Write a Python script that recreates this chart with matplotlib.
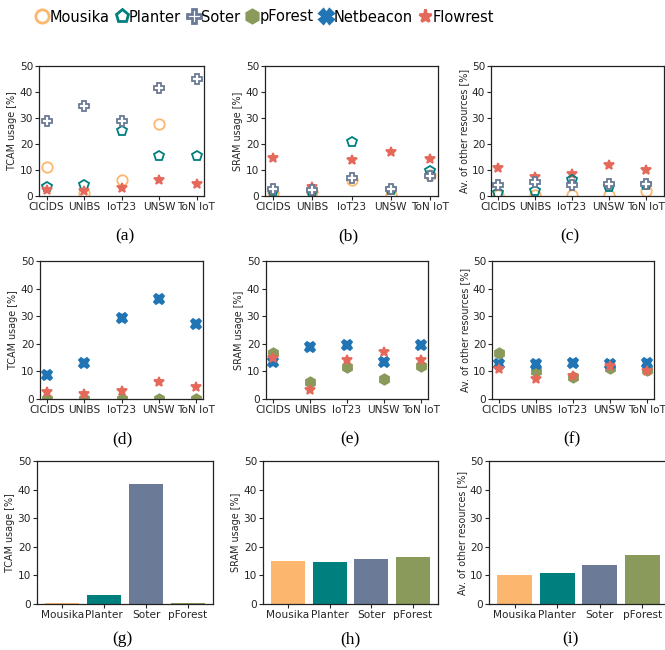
import numpy as np
import matplotlib
matplotlib.use("Agg")
import matplotlib.pyplot as plt
from matplotlib.lines import Line2D

# datasets and tools
datasets = ["CICIDS", "UNIBS", "IoT23", "UNSW", "ToN IoT"]
tools = ["Mousika", "Planter", "Soter", "pForest"]

# row 1: Mousika / Planter / Soter / Flowrest
tcam_mousika = [11.0, 1.3, 6.2, 27.7, np.nan]
tcam_planter = [3.5, 4.3, 25.0, 15.5, 15.5]
tcam_soter = [29.0, 34.5, 29.0, 41.5, 45.0]
tcam_flowrest = [2.5, 1.8, 3.0, 6.2, 4.5]

sram_mousika = [1.0, 1.5, 6.0, 0.5, 8.0]
sram_planter = [1.8, 1.5, 20.7, 2.5, 9.5]
sram_soter = [2.8, 2.5, 7.0, 2.8, 7.8]
sram_flowrest = [14.8, 3.3, 14.0, 17.0, 14.2]

other_mousika = [0.5, 0.4, 0.4, 0.4, 1.8]
other_planter = [1.2, 2.0, 6.0, 3.5, 4.2]
other_soter = [4.2, 5.2, 4.2, 4.5, 4.5]
other_flowrest = [10.8, 7.2, 8.5, 12.0, 10.0]

# row 2: pForest / Netbeacon / Flowrest
tcam_pforest = [0.0, 0.0, 0.0, 0.0, 0.0]
tcam_netbeacon = [8.8, 13.2, 29.3, 36.2, 27.2]
sram_pforest = [16.5, 6.0, 11.5, 7.2, 12.0]
sram_netbeacon = [13.5, 18.8, 19.5, 13.5, 19.5]
other_pforest = [16.8, 10.0, 7.8, 11.2, 10.5]
other_netbeacon = [12.8, 12.8, 13.0, 12.8, 13.0]

# row 3: bars per tool
bar_tcam = [0.25, 3.0, 42.0, 0.25]
bar_sram = [15.2, 14.8, 15.8, 16.5]
bar_other = [10.0, 10.7, 13.5, 17.0]

colors = {"Mousika": "#fdb66d", "Planter": "#007f7f", "Soter": "#6b7a96",
          "pForest": "#8a9a5b", "Netbeacon": "#2175b5", "Flowrest": "#e5695b"}
styles = {
    "Mousika": dict(marker="o", mfc="none", mec=colors["Mousika"]),
    "Planter": dict(marker="p", mfc="none", mec=colors["Planter"]),
    "Soter": dict(marker="P", mfc="white", mec=colors["Soter"]),
    "pForest": dict(marker="h", mfc=colors["pForest"], mec=colors["pForest"]),
    "Netbeacon": dict(marker="X", mfc=colors["Netbeacon"], mec=colors["Netbeacon"]),
    "Flowrest": dict(marker="*", mfc=colors["Flowrest"], mec=colors["Flowrest"]),
}

W, H = 665, 650
fig = plt.figure(figsize=(W / 100, H / 100), dpi=100)
FS = 7.6
TXT = "#262626"


def px_axes(x0, y0, x1, y1):
    # pixel box (left, top, right, bottom) -> figure axes
    return fig.add_axes([x0 / W, 1 - y1 / H, (x1 - x0) / W, (y1 - y0) / H])


def style_axes(ax, ylabel):
    ax.set_ylim(0, 50)
    ax.set_yticks(range(0, 51, 10))
    ax.set_ylabel(ylabel, fontsize=6.9, color=TXT, labelpad=2)
    ax.tick_params(labelsize=FS, colors=TXT, length=3, width=0.8, pad=1.2)
    for s in ax.spines.values():
        s.set_linewidth(0.9)
        s.set_color("#222222")


def scatter_panel(box, series, ylabel, xlim=None):
    ax = px_axes(*box)
    x = np.arange(len(datasets))
    for name, vals in series:
        ax.plot(x, vals, ls="none", ms=7.5, mew=1.3, **styles[name])
    ax.set_xticks(x)
    ax.set_xticklabels(datasets)
    if xlim:
        ax.set_xlim(*xlim)
    style_axes(ax, ylabel)
    return ax


def bar_panel(box, vals, ylabel):
    ax = px_axes(*box)
    x = np.arange(len(tools))
    ax.bar(x, vals, width=0.82, color=[colors[t] for t in tools])
    ax.set_xticks(x)
    ax.set_xticklabels(tools)
    style_axes(ax, ylabel)
    return ax


lab_t = "TCAM usage [%]"
lab_s = "SRAM usage [%]"
lab_o = "Av. of other resources [%]"

scatter_panel((39, 66, 204, 196), [("Mousika", tcam_mousika), ("Planter", tcam_planter),
              ("Soter", tcam_soter), ("Flowrest", tcam_flowrest)], lab_t)
scatter_panel((265, 66, 438, 196), [("Flowrest", sram_flowrest), ("Mousika", sram_mousika),
              ("Planter", sram_planter), ("Soter", sram_soter)], lab_s)
scatter_panel((491, 66, 664, 196), [("Flowrest", other_flowrest), ("Mousika", other_mousika),
              ("Planter", other_planter), ("Soter", other_soter)], lab_o, xlim=(-0.2, 4.5))

scatter_panel((40, 261, 203, 399), [("pForest", tcam_pforest), ("Flowrest", tcam_flowrest),
              ("Netbeacon", tcam_netbeacon)], lab_t)
scatter_panel((266, 261, 428, 399), [("Netbeacon", sram_netbeacon), ("pForest", sram_pforest),
              ("Flowrest", sram_flowrest)], lab_s)
scatter_panel((492, 261, 654, 399), [("pForest", other_pforest), ("Netbeacon", other_netbeacon),
              ("Flowrest", other_flowrest)], lab_o)

bar_panel((37, 461, 213, 604), bar_tcam, lab_t)
bar_panel((263, 461, 438, 604), bar_sram, lab_s)
bar_panel((489, 461, 668, 604), bar_other, lab_o)

# captions
caps = [("(a)", 125, 236), ("(b)", 348, 236), ("(c)", 570, 236),
        ("(d)", 122, 439), ("(e)", 350, 439), ("(f)", 572, 439),
        ("(g)", 122, 639), ("(h)", 350, 639), ("(i)", 570, 639)]
for t, cx, cy in caps:
    fig.text(cx / W, 1 - cy / H, t, ha="center", va="center",
             fontsize=12.5, family="Liberation Serif")

# legend
order = ["Mousika", "Planter", "Soter", "pForest", "Netbeacon", "Flowrest"]
handles = [Line2D([], [], ls="none", ms=9.5, mew=2.0, **styles[n]) for n in order]
fig.legend(handles, order, loc="center", bbox_to_anchor=(265 / W, 1 - 17 / H),
           ncol=6, frameon=False, fontsize=10.5, handletextpad=0.1,
           columnspacing=0.45, handlelength=0.8, borderaxespad=0)

fig.savefig("out.png", dpi=100)
